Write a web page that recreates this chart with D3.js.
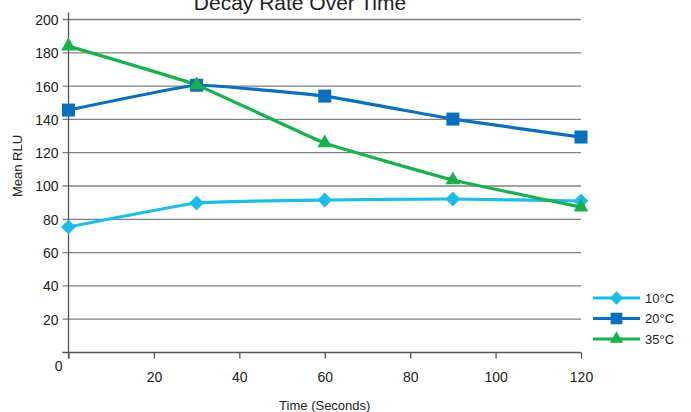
<!DOCTYPE html>
<html lang="en">
<head>
<meta charset="UTF-8">
<title>Decay Rate Over Time</title>
<script src="https://d3js.org/d3.v7.min.js"></script>
<style>
  body { margin: 0; background: #fff; }
  text { font-family: "Liberation Sans", Arial, sans-serif; fill: #222; }
</style>
</head>
<body>
<div id="chart"></div>
<script>
// Data
const times = [0, 30, 60, 90, 120];
const series = ["10°C", "20°C", "35°C"];
const values10 = [75.4, 89.8, 91.6, 92.2, 91];
const values20 = [145.6, 160.5, 154, 140.2, 129.4];
const values35 = [184, 160.7, 125.8, 103.6, 87.3];
const yTicks = [0, 20, 40, 60, 80, 100, 120, 140, 160, 180, 200];
const xTicks = [0, 20, 40, 60, 80, 100, 120];

const colors = ["#1ebde8", "#0a6fbd", "#1ab04c"];
const symbols = [d3.symbolDiamond2, d3.symbolSquare, d3.symbolTriangle];
const symSizes = [140, 169, 95];

const W = 691, H = 412;
const margin = { top: 19.5, right: 110, bottom: 59.5, left: 68.5 };
const width = W - margin.left - margin.right;
const height = H - margin.top - margin.bottom;

const svg = d3.select("#chart").append("svg")
    .attr("width", W).attr("height", H);
const g = svg.append("g")
    .attr("transform", `translate(${margin.left},${margin.top})`);

const x = d3.scaleLinear().domain([0, 120]).range([0, width]);
const y = d3.scaleLinear().domain([0, 200]).range([height, 0]);

// gridlines
g.append("g")
    .selectAll("line")
    .data(yTicks)
    .join("line")
    .attr("x1", -6).attr("x2", width)
    .attr("y1", d => y(d)).attr("y2", d => y(d))
    .attr("stroke", d => d === 0 ? "#555" : "#808080")
    .attr("stroke-width", 1.3);

// y axis
const yAxis = g.append("g")
    .call(d3.axisLeft(y).tickValues(yTicks).tickSize(0).tickPadding(10));
yAxis.select(".domain").remove();
yAxis.selectAll("text")
    .style("font-size", "14px")
    .attr("dy", d => d === 0 ? "1.3em" : "0.35em")
    .attr("x", d => d === 0 ? -6 : -10);
g.append("line")
    .attr("x1", 0).attr("x2", 0)
    .attr("y1", -7).attr("y2", height + 6)
    .attr("stroke", "#555").attr("stroke-width", 1.3);

// x axis
const xAxis = g.append("g")
    .attr("transform", `translate(0,${height})`)
    .call(d3.axisBottom(x).tickValues(xTicks).tickSize(6).tickPadding(14)
        .tickFormat(d => d === 0 ? "" : d));
xAxis.select(".domain").remove();
xAxis.selectAll("line").attr("stroke", "#555").attr("stroke-width", 1.3);
xAxis.selectAll("text").style("font-size", "14px");

// axis titles
svg.append("text")
    .attr("x", margin.left + width / 2).attr("y", 410)
    .attr("text-anchor", "middle")
    .style("font-size", "13px")
    .text("Time (Seconds)");

svg.append("text")
    .attr("transform", `translate(22,${margin.top + height / 2 - 20}) rotate(-90)`)
    .attr("text-anchor", "middle")
    .style("font-size", "13px")
    .text("Mean RLU");

// title
svg.append("text")
    .attr("x", 300).attr("y", 10)
    .attr("text-anchor", "middle")
    .style("font-size", "21px")
    .text("Decay Rate Over Time");

// lines
const allValues = [values10, values20, values35];
const line = d3.line()
    .x((d, i) => x(times[i]))
    .y(d => y(d))
    .curve(d3.curveCardinal.tension(0.7));

allValues.forEach((vals, k) => {
    g.append("path")
        .datum(vals)
        .attr("fill", "none")
        .attr("stroke", colors[k])
        .attr("stroke-width", 3.2)
        .attr("d", line);
});

allValues.forEach((vals, k) => {
    g.append("g")
        .selectAll("path")
        .data(vals)
        .join("path")
        .attr("transform", (d, i) => `translate(${x(times[i])},${y(d)})`)
        .attr("d", d3.symbol().type(symbols[k]).size(symSizes[k]))
        .attr("fill", colors[k]);
});

// legend
const legend = svg.append("g")
    .selectAll("g")
    .data(series)
    .join("g")
    .attr("transform", (d, i) => `translate(593,${298 + i * 20.5})`);

legend.append("line")
    .attr("x1", 0).attr("x2", 47)
    .attr("stroke", (d, i) => colors[i])
    .attr("stroke-width", 3.2);

legend.append("path")
    .attr("transform", "translate(23.5,0)")
    .attr("d", (d, i) => d3.symbol().type(symbols[i]).size(symSizes[i] * 0.8)())
    .attr("fill", (d, i) => colors[i]);

legend.append("text")
    .attr("x", 52).attr("dy", "0.35em")
    .style("font-size", "13px")
    .text(d => d);
</script>
</body>
</html>
